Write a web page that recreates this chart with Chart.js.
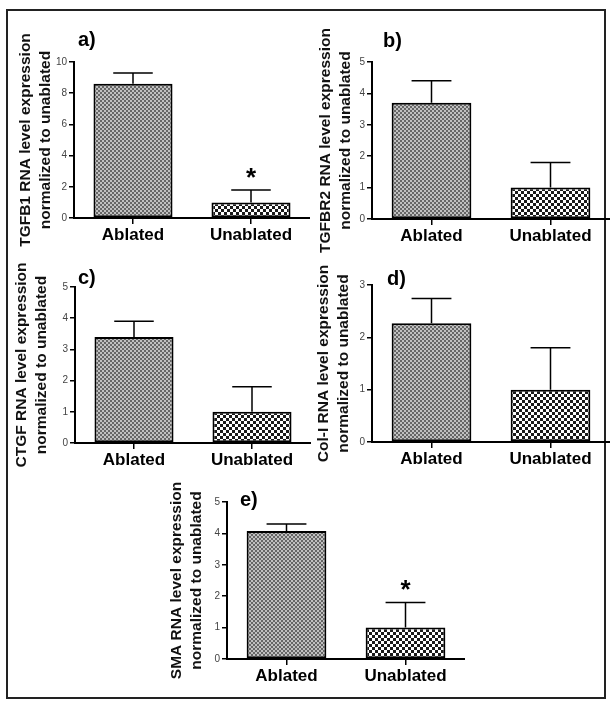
<!DOCTYPE html>
<html>
<head>
<meta charset="utf-8">
<script src="https://cdn.jsdelivr.net/npm/chart.js@4.4.0/dist/chart.umd.min.js"></script>
<style>
  body { margin: 0; background: #fff; }
  #wrap { position: relative; width: 614px; height: 707px; overflow: hidden; }
  #frame { position: absolute; left: 6px; top: 9px; width: 596px; height: 686px; border: 2px solid #222; }
  canvas { position: absolute; }
</style>
</head>
<body>
<div id="wrap">
  <div id="frame"></div>
  <canvas id="chartA"></canvas>
  <canvas id="chartB"></canvas>
  <canvas id="chartC"></canvas>
  <canvas id="chartD"></canvas>
  <canvas id="chartE"></canvas>
</div>
<script>
const categories = ["Ablated", "Unablated"];

// mean and upper error (SEM) per group
const tgfb1Values = [8.6, 1.0];
const tgfb1Errors = [0.7, 0.8];
const tgfbr2Values = [3.7, 1.0];
const tgfbr2Errors = [0.7, 0.8];
const ctgfValues = [3.4, 1.0];
const ctgfErrors = [0.5, 0.8];
const col1Values = [2.27, 1.0];
const col1Errors = [0.47, 0.8];
const smaValues = [4.08, 1.0];
const smaErrors = [0.22, 0.8];

const tgfb1Stars = [false, true];
const smaStars = [false, true];
const noStars = [false, false];

const FONT = '"Liberation Sans", Arial, sans-serif';
Chart.defaults.font.family = FONT;

function makePattern(size, cell, back, front) {
    const c = document.createElement("canvas");
    c.width = size;
    c.height = size;
    const g = c.getContext("2d");
    g.fillStyle = back;
    g.fillRect(0, 0, size, size);
    g.fillStyle = front;
    g.fillRect(0, 0, cell, cell);
    g.fillRect(cell, cell, cell, cell);
    return g.createPattern(c, "repeat");
}

const finePattern = makePattern(4, 2, "#c0c0c0", "#666666");
const coarsePattern = makePattern(6, 3, "#ffffff", "#1a1a1a");

// error bars, asterisks and panel letter
function extras(p) {
    return {
        id: "extras" + p.letter,
        afterDatasetsDraw(chart) {
            const ctx = chart.ctx;
            const y = chart.scales.y;
            const meta = chart.getDatasetMeta(0);
            ctx.save();
            ctx.strokeStyle = "#000";
            ctx.lineWidth = 1.5;
            ctx.fillStyle = "#000";
            meta.data.forEach((bar, i) => {
                const top = y.getPixelForValue(p.values[i] + p.errors[i]);
                const half = bar.width / 4;
                ctx.beginPath();
                ctx.moveTo(bar.x, bar.y);
                ctx.lineTo(bar.x, top);
                ctx.moveTo(bar.x - half, top);
                ctx.lineTo(bar.x + half, top);
                ctx.stroke();
                if (p.stars[i]) {
                    ctx.font = "bold 26px " + FONT;
                    ctx.textAlign = "center";
                    ctx.textBaseline = "alphabetic";
                    ctx.fillText("*", bar.x, top - 4);
                }
            });
            ctx.font = "bold 20px " + FONT;
            ctx.textAlign = "left";
            ctx.textBaseline = "middle";
            ctx.fillText(p.letter + ")", chart.chartArea.left + p.dx, chart.chartArea.top + p.dy);
            ctx.restore();
        }
    };
}

function makePanel(p) {
    const el = document.getElementById(p.id);
    const w = p.box[2] - p.box[0];
    const h = p.box[3] - p.box[1];
    el.width = w;
    el.height = h;
    el.style.left = p.box[0] + "px";
    el.style.top = p.box[1] + "px";

    new Chart(el, {
        type: "bar",
        data: {
            labels: categories,
            datasets: [{
                data: p.values,
                backgroundColor: [finePattern, coarsePattern],
                borderColor: "#000",
                borderWidth: 2,
                borderSkipped: false,
                categoryPercentage: 1,
                barPercentage: 0.67
            }]
        },
        options: {
            responsive: false,
            animation: false,
            layout: { padding: { left: 0, right: 0, top: p.area[1] - p.box[1], bottom: 0 } },
            plugins: { legend: { display: false }, tooltip: { enabled: false } },
            scales: {
                x: {
                    offset: true,
                    grid: { drawOnChartArea: false, offset: false, tickLength: 6, color: "#000", lineWidth: 1.5 },
                    border: { display: true, color: "#000", width: 2 },
                    ticks: { color: "#000", font: { size: 17, weight: "bold" }, padding: 1, maxRotation: 0 },
                    afterFit: s => { s.height = p.box[3] - p.area[2]; }
                },
                y: {
                    min: 0,
                    max: p.max,
                    ticks: { stepSize: p.step, color: "#444", font: { size: 10 }, padding: 2 },
                    grid: { drawOnChartArea: false, tickLength: 5, color: "#000", lineWidth: 1.5 },
                    border: { display: true, color: "#000", width: 2 },
                    title: {
                        display: true,
                        text: p.title,
                        color: "#111",
                        font: { size: 15.5, weight: "bold", lineHeight: 1.29 },
                        padding: { top: 8, bottom: 0 }
                    },
                    afterFit: s => { s.width = p.area[0] - p.box[0]; }
                }
            }
        },
        plugins: [extras(p)]
    });
}

makePanel({ id: "chartA", letter: "a", box: [8, 20, 310, 262], area: [74, 62, 218], dx: 4, dy: -22,
    max: 10, step: 2, values: tgfb1Values, errors: tgfb1Errors, stars: tgfb1Stars,
    title: ["TGFB1 RNA level expression", "normalized to unablated"] });
makePanel({ id: "chartB", letter: "b", box: [308, 20, 610, 262], area: [372, 62, 219], dx: 11, dy: -21,
    max: 5, step: 1, values: tgfbr2Values, errors: tgfbr2Errors, stars: noStars,
    title: ["TGFBR2 RNA level expression", "normalized to unablated"] });
makePanel({ id: "chartC", letter: "c", box: [4, 262, 311, 478], area: [75, 287, 443], dx: 3, dy: -9,
    max: 5, step: 1, values: ctgfValues, errors: ctgfErrors, stars: noStars,
    title: ["CTGF RNA level expression", "normalized to unablated"] });
makePanel({ id: "chartD", letter: "d", box: [306, 262, 610, 478], area: [372, 285, 442], dx: 15, dy: -6,
    max: 3, step: 1, values: col1Values, errors: col1Errors, stars: noStars,
    title: ["Col-I RNA level expression", "normalized to unablated"] });
makePanel({ id: "chartE", letter: "e", box: [159, 470, 465, 692], area: [227, 502, 659], dx: 13, dy: -2,
    max: 5, step: 1, values: smaValues, errors: smaErrors, stars: smaStars,
    title: ["SMA RNA level expression", "normalized to unablated"] });
</script>
</body>
</html>
